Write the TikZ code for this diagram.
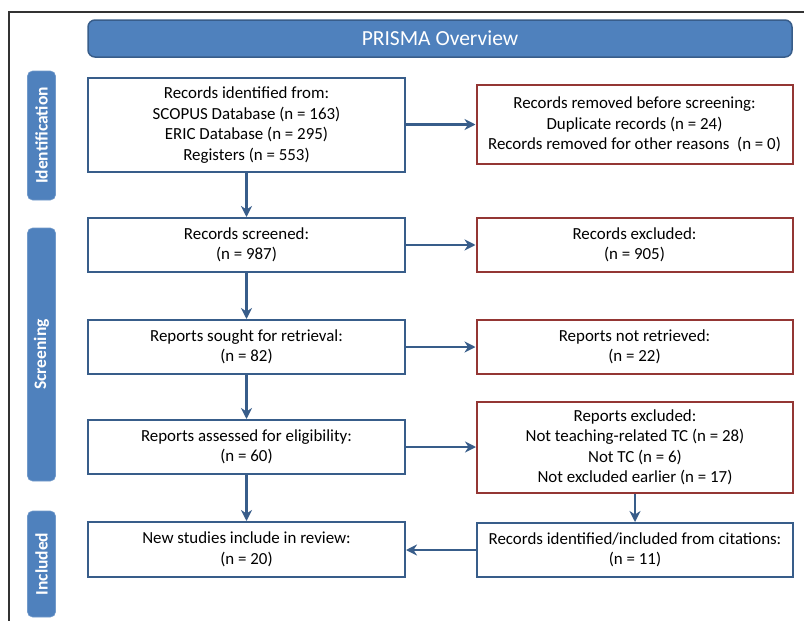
\documentclass[tikz,border=0pt]{standalone}
\usepackage{fontspec}
\setmainfont{Carlito}
\usetikzlibrary{arrows.meta}
\definecolor{accfill}{HTML}{4F81BD}
\definecolor{accline}{HTML}{385D8A}
\definecolor{redline}{HTML}{943634}
\tikzset{
  bluebox/.style={draw=accline, line width=2pt, fill=white, minimum width=317pt, align=center, inner sep=0pt, font=\fontsize{16.9}{20.5}\selectfont},
  redbox/.style={draw=redline, line width=2pt, fill=white, minimum width=316pt, align=center, inner sep=0pt, font=\fontsize{16.9}{20.5}\selectfont},
  phase/.style={fill=accfill, draw=accfill!80!white, line width=0.6pt, rounded corners=5pt, minimum height=28pt, rotate=90, text=white, font=\fontsize{17.5}{19}\selectfont\bfseries, inner sep=0pt},
  arr/.style={draw=accline, line width=2.6pt, -{Stealth[length=11pt,width=11pt,inset=3.5pt]}}
}
\begin{document}
\begin{tikzpicture}[x=1pt,y=-1pt]
\useasboundingbox (0,0) rectangle (804,621);
\draw[line width=1.4pt, black!80] (9,621) -- (9,12) -- (804,12);
% title
\node[fill=accfill, draw=accline, line width=1.5pt, rounded corners=7pt, minimum width=704pt, minimum height=37pt, text=white, font=\fontsize{21.5}{24}\selectfont, inner sep=0pt] (title) at (440,38.5) {PRISMA Overview};
% phases
\node[phase, minimum width=129pt] (pid) at (41.5,135.5) {Identification};
\node[phase, minimum width=253pt] (pscr) at (41.5,354.5) {Screening};
\node[phase, minimum width=106pt] (pinc) at (41.5,564) {Included};
% left column
\node[bluebox, minimum height=94pt] (b1) at (246.5,125) {Records identified from:\\SCOPUS Database (n = 163)\\ERIC Database (n = 295)\\Registers (n = 553)};
\node[bluebox, minimum height=54pt] (b2) at (246.5,245) {Records screened:\\(n = 987)};
\node[bluebox, minimum height=54pt] (b3) at (246.5,347) {Reports sought for retrieval:\\(n = 82)};
\node[bluebox, minimum height=54pt] (b4) at (246.5,447) {Reports assessed for eligibility:\\(n = 60)};
\node[bluebox, minimum height=55pt] (b5) at (246.5,549.5) {New studies include in review:\\(n = 20)};
% right column
\node[redbox, minimum height=79pt] (r1) at (634.5,124.5) {Records removed before screening:\\Duplicate records (n = 24)\\Records removed for other reasons~~(n = 0)};
\node[redbox, minimum height=54pt] (r2) at (634.5,245) {Records excluded:\\(n = 905)};
\node[redbox, minimum height=54pt] (r3) at (634.5,347) {Reports not retrieved:\\(n = 22)};
\node[redbox, minimum height=91pt] (r4) at (635,447.5) {Reports excluded:\\Not teaching-related TC (n = 28)\\Not TC (n = 6)\\Not excluded earlier (n = 17)};
\node[bluebox, minimum width=316pt, minimum height=54pt] (c1) at (635,550) {Records identified/included from citations:\\(n = 11)};
% arrows
\draw[arr] (b1) -- (b2);
\draw[arr] (b2) -- (b3);
\draw[arr] (b3) -- (b4);
\draw[arr] (b4) -- (b5);
\draw[arr] (b1.east |- r1.center) -- (r1.west);
\draw[arr] (b2) -- (r2);
\draw[arr] (b3) -- (r3);
\draw[arr] (b4.east) -- (b4.east -| r4.west);
\draw[arr] (r4.south -| c1.north) -- (c1.north);
\draw[arr] (c1.west) -- (c1.west -| b5.east);
\end{tikzpicture}
\end{document}
